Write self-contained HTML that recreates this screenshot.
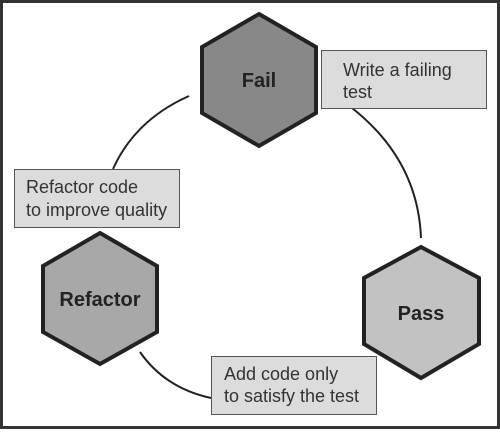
<!DOCTYPE html>
<html><head><style>
html,body{margin:0;padding:0;background:#fff}
svg text{font-family:"Liberation Sans",sans-serif}
</style></head><body>
<svg width="500" height="429" viewBox="0 0 500 429" xmlns="http://www.w3.org/2000/svg">
<rect x="1.5" y="1.5" width="497" height="426" fill="#fff" stroke="#333" stroke-width="3"/>
<g fill="none" stroke="#222" stroke-width="2">
<path d="M352,108 Q418,160 421,238"/>
<path d="M140,352 Q165,388 211,398"/>
<path d="M113,169 Q135,120 189,96"/>
</g>
<polygon points="259,14 316,47 316,113 259,146 202,113 202,47" fill="#888" stroke="#222" stroke-width="4"/>
<polygon points="421,247 479,278 479,344 421,378 364,344 364,278" fill="#c2c2c2" stroke="#222" stroke-width="4"/>
<polygon points="100,233 157,266 157,332 100,364 43,332 43,266" fill="#a8a8a8" stroke="#222" stroke-width="4"/>
<g fill="#dcdcdc" stroke="#555" stroke-width="1">
<rect x="321.5" y="50.5" width="165" height="58"/>
<rect x="14.5" y="169.5" width="165" height="58"/>
<rect x="211.5" y="356.5" width="165" height="58"/>
</g>
<g font-weight="bold" font-size="20" fill="#222" text-anchor="middle">
<text x="259" y="87">Fail</text>
<text x="421" y="320">Pass</text>
<text x="100" y="306">Refactor</text>
</g>
<g font-size="18" fill="#333">
<text x="343" y="76">Write a failing</text>
<text x="343" y="98">test</text>
<text x="26" y="193">Refactor code</text>
<text x="26" y="216">to improve quality</text>
<text x="224" y="380">Add code only</text>
<text x="224" y="402">to satisfy the test</text>
</g>
</svg>
</body></html>
